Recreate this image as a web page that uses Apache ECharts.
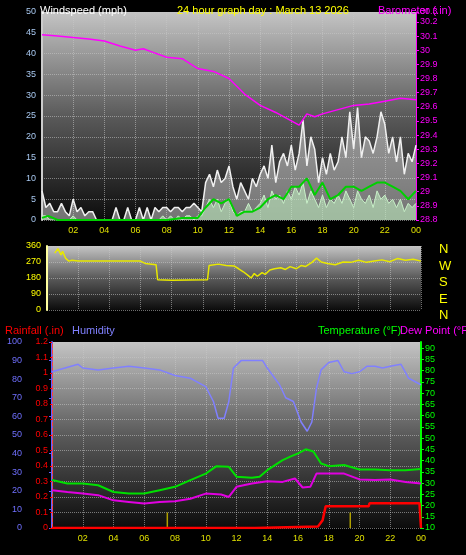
<!DOCTYPE html>
<html><head><meta charset="utf-8">
<script src="https://cdn.jsdelivr.net/npm/echarts@6/dist/echarts.min.js"></script>
<style>html,body{margin:0;background:#000}#c{width:466px;height:555px}</style>
</head><body><div id="c"></div>
<script>
// ---- data ----
const hoursQ = []; // 15-minute steps for wind
for (let i = 0; i <= 96; i++) hoursQ.push(i / 4);
const windGust = [7,3,4,2, 2,4,2,1, 5,2,3,1, 2,2,0,0, 0,0,0,3, 0,0,3,0, 0,3,0,3, 0,3,2,3, 3,2,3,3, 2,3,3,4,
  3,2,9,11, 8,12,9,10, 13,8,5,9, 7,5,10,8, 11,13,10,18, 9,14,16,13, 18,12,16,24, 13,20,17,9, 15,11,16,12,
  14,20,15,26, 17,27,15,20, 19,16,20,26, 23,16,20,14, 20,11,16,14, 18];
const windSpeed = [1,1,0,0, 0,0,0,0, 1,0,0,0, 0,0,0,0, 0,0,0,0, 0,0,0,0, 0,0,0,0, 0,0,0,1, 0,1,0,1, 0,1,1,0,
  1,1,3,5, 3,5,2,4, 5,2,1,2, 2,4,2,3, 4,6,3,7, 5,6,4,7, 5,8,6,9, 4,7,5,3, 6,3,5,4,
  6,4,7,5, 3,7,5,4, 6,3,7,5, 6,4,5,3, 5,2,4,3, 4];
const windAvg = [[0,0.5],[0.4,1],[1,0],[8,0],[9,0.5],[10,0.5],[10.5,3],[11,5],[11.5,4],[12,5],[12.5,1],[13,2],[13.5,2],[14,3],[14.5,5],[15,6],[15.5,5],[16,8],[16.5,8],[17,10],[17.5,6],[18,9],[18.5,5],[19,6],[19.5,8],[20,8],[20.5,7],[21,8],[21.5,9],[22,9],[22.5,8],[23,7],[23.5,5],[24,7]];
const barometer = [[0,30.11],[1,30.10],[2,30.09],[3,30.08],[4,30.065],[5,30.03],[6,30.0],[6.5,30.01],[7,29.99],[8,29.95],[9,29.94],[10,29.87],[11,29.85],[12,29.80],[13,29.69],[14,29.61],[15,29.56],[16,29.50],[16.5,29.47],[17,29.55],[17.5,29.53],[18,29.55],[19,29.58],[20,29.61],[21,29.62],[22,29.64],[23,29.66],[24,29.65]];
const windDir = [[0.5,320],[0.7,345],[0.9,310],[1,330],[1.2,290],[1.4,275],[1.6,280],[2,275],[6,275],[6.3,262],[7,255],[7.1,170],[8,168],[10.3,170],[10.4,250],[11,258],[11.5,250],[12,248],[12.3,232],[12.6,215],[12.9,195],[13.1,180],[13.3,205],[13.5,190],[13.8,210],[14,200],[14.3,225],[14.6,232],[15,238],[15.3,228],[15.6,244],[16,232],[16.3,250],[16.6,245],[17,268],[17.3,292],[17.6,270],[18,262],[18.5,255],[19,270],[19.5,268],[20,280],[20.5,268],[21,275],[21.5,282],[22,272],[22.5,290],[23,280],[23.5,285],[24,275]];
const humidity = [[0,84],[1.7,88],[2,86],[3,85],[4,86],[5,87],[6,86],[7,85],[8,82],[9,80.5],[10,76],[10.5,68],[10.8,59],[11.2,59],[11.5,68],[11.8,86],[12.3,90],[13,90],[13.7,90],[14,86],[14.8,77],[15.2,70],[15.7,68],[16.2,57],[16.6,52],[16.9,57],[17.2,75],[17.5,85],[18,89],[18.6,90],[19,84],[19.5,83],[20,84],[20.5,87],[21,87],[21.5,86],[22,87],[22.7,88],[23.2,80.5],[24,77]];
const temperature = [[0,31.3],[1,29.8],[2,29.8],[3,29],[4,26],[5,25.3],[6,25.3],[7,26.8],[8,28.3],[9,31.3],[10,34.2],[10.7,37.5],[11.5,37.2],[12,32.8],[13,32.3],[13.5,32.8],[14,35.7],[15,40.2],[15.5,41.7],[16,43.2],[16.5,45],[17,44],[17.5,38.7],[18,37.5],[19,38],[20,36],[21,36],[22,35.7],[23,35.7],[24,36.2]];
const dewPoint = [[0,26.8],[1,26],[2,25.3],[3,24.6],[4,22.3],[5,21.6],[6,20.9],[7,21.6],[8,21.9],[9,23],[10,25.3],[11,24.9],[11.5,23.8],[12,28.3],[13,29.8],[14,30.8],[15,30.5],[15.8,32],[16.3,28],[16.8,28.3],[17.2,34.2],[18,34.2],[19,34.2],[20,31.6],[21,31.3],[22,31.6],[23,30.5],[24,29.8]];
const rainfall = [[0,0],[13.2,0],[13.25,0.01],[17.3,0.01],[17.6,0.05],[17.8,0.14],[20.6,0.14],[20.65,0.16],[23.9,0.16],[24,0]];
const rainRate = [[7.5,0.1],[19.4,0.1]];
const dirLetters = ['N','W','S','E','N'];

const bg = new echarts.graphic.LinearGradient(0,0,0,1,[{offset:0,color:'#c4c4c4'},{offset:0.5,color:'#5a5a5a'},{offset:1,color:'#0c0c0c'}]);
const split = {show:true,lineStyle:{color:'rgba(200,200,200,0.55)',type:'dotted',width:1}};
const hourFmt = v => v === 24 ? '00' : (v < 10 ? '0' + v : '' + v);
const F = 'Liberation Sans';
function xAx(gi, showLabel){
  return {type:'value',gridIndex:gi,min:0,max:24,interval:2,
    axisLine:{show:false},axisTick:{show:false},splitLine:split,
    axisLabel:{show:showLabel,color:'#e0e000',fontSize:9,fontFamily:F,formatter:hourFmt,margin:6,
      showMinLabel:false}};
}
const ts = c => ({color:c,fontSize:11,fontWeight:'normal',fontFamily:F});
const chart = echarts.init(document.getElementById('c'));
chart.setOption({
  backgroundColor:'#000',animation:false,
  title:[
    {text:'Windspeed (mph)',left:35,top:0,textStyle:ts('#fff')},
    {text:'24 hour graph day : March 13 2026',left:172,top:0,textStyle:ts('#ffff00')},
    {text:'Barometer (.in)',left:373,top:0,textStyle:ts('#ff00ff')},
    {text:'Rainfall (.in)',left:0,top:320,textStyle:ts('#ff0000')},
    {text:'Humidity',left:67,top:320,textStyle:ts('#8080ff')},
    {text:'Temperature (°F)',left:313,top:320,textStyle:ts('#00ff00')},
    {text:'Dew Point (°F)',left:395,top:320,textStyle:ts('#ff00ff')}
  ].concat(dirLetters.map((t,i)=>({text:t,left:434,top:238+i*16.5,textStyle:{color:'#ffff00',fontSize:13,fontWeight:'normal',fontFamily:F}}))),
  grid:[
    {left:42,right:50,top:12,height:208,show:true,backgroundColor:bg,borderWidth:0},
    {left:47,right:45,top:246,height:64,show:true,backgroundColor:bg,borderWidth:0},
    {left:52,right:45,top:342,height:186,show:true,backgroundColor:bg,borderWidth:0}
  ],
  xAxis:[xAx(0,true),xAx(1,false),xAx(2,true)],
  yAxis:[
    {type:'value',gridIndex:0,min:0,max:50,interval:5,splitLine:split,
      axisLine:{show:true,lineStyle:{color:'#ccc',width:2}},axisTick:{show:false},
      axisLabel:{color:'#a8c8f0',fontSize:9,fontFamily:F,margin:6}},
    {type:'value',gridIndex:0,position:'right',min:28.8,max:30.27,interval:0.1,splitLine:{show:false},
      axisLine:{show:true,lineStyle:{color:'#ff00ff',width:1}},axisTick:{show:true,length:3,lineStyle:{color:'#ff00ff'}},
      axisLabel:{color:'#ff00ff',fontSize:9,fontFamily:F,margin:4,formatter:v=>(+v.toFixed(1)).toString()}},
    {type:'value',gridIndex:1,min:0,max:360,interval:90,splitLine:split,
      axisLine:{show:true,lineStyle:{color:'#ffffa0',width:2}},axisTick:{show:false},
      axisLabel:{color:'#ffff00',fontSize:9,fontFamily:F,margin:6}},
    {type:'value',gridIndex:2,position:'left',min:0,max:100,interval:10,offset:22,splitLine:{show:false},
      axisLine:{show:true,lineStyle:{color:'#6060ff',width:2}},axisTick:{show:true,length:3,lineStyle:{color:'#6060ff'}},
      axisLabel:{color:'#7070ff',fontSize:9,fontFamily:F,margin:8}},
    {type:'value',gridIndex:2,position:'left',offset:0,min:0,max:1.2,interval:0.1,splitLine:split,
      axisLine:{show:true,lineStyle:{color:'#ff4040',width:1,type:'dashed'}},axisTick:{show:true,length:2,lineStyle:{color:'#ff0000'}},
      axisLabel:{color:'#ff0000',fontSize:9,fontFamily:F,margin:4,formatter:v=>(+v.toFixed(1)).toString()}},
    {type:'value',gridIndex:2,position:'right',min:10,max:92.7,interval:5,splitLine:{show:false},
      axisLine:{show:true,lineStyle:{color:'#00ff00',width:2}},axisTick:{show:true,length:3,lineStyle:{color:'#00ff00'}},
      axisLabel:{color:'#00ff00',fontSize:9,fontFamily:F,margin:4}}
  ],
  series:[
    {type:'line',xAxisIndex:0,yAxisIndex:0,data:hoursQ.map((h,i)=>[h,windGust[i]]),symbol:'none',
      lineStyle:{color:'#f0f0f0',width:1.5},areaStyle:{color:'rgba(225,225,225,0.7)'}},
    {type:'line',xAxisIndex:0,yAxisIndex:0,data:hoursQ.map((h,i)=>[h,windSpeed[i]]),symbol:'none',
      lineStyle:{color:'#c8f0c8',width:1},areaStyle:{color:'rgba(190,235,190,0.85)'}},
    {type:'line',xAxisIndex:0,yAxisIndex:0,data:windAvg,symbol:'none',lineStyle:{color:'#00d000',width:2}},
    {type:'line',xAxisIndex:0,yAxisIndex:1,data:barometer,symbol:'none',lineStyle:{color:'#ff00ff',width:1.5}},
    {type:'line',xAxisIndex:1,yAxisIndex:2,data:windDir,symbol:'none',lineStyle:{color:'#e8e800',width:1.5}},
    {type:'line',xAxisIndex:2,yAxisIndex:3,data:humidity,symbol:'none',lineStyle:{color:'#8080ff',width:1.5}},
    {type:'line',xAxisIndex:2,yAxisIndex:5,data:temperature,symbol:'none',lineStyle:{color:'#00e000',width:2}},
    {type:'line',xAxisIndex:2,yAxisIndex:5,data:dewPoint,symbol:'none',lineStyle:{color:'#e000e0',width:2}},
    {type:'bar',xAxisIndex:2,yAxisIndex:4,data:rainRate,barWidth:1.5,itemStyle:{color:'#b0a000'}},
    {type:'line',xAxisIndex:2,yAxisIndex:4,data:rainfall,symbol:'none',lineStyle:{color:'#ff0000',width:2.5}}
  ]
});
</script></body></html>
